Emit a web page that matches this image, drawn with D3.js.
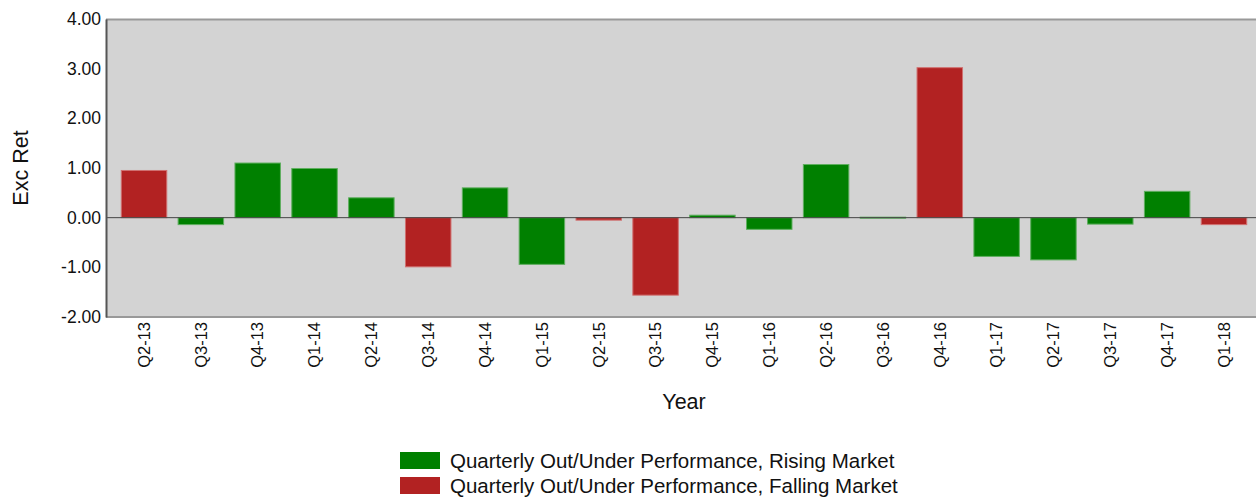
<!DOCTYPE html>
<meta charset="utf-8">
<html>
<head>
<style>
  body { margin: 0; background: #fff; font-family: "Liberation Sans", Arial, sans-serif; }
  .tick text { font-family: "Liberation Sans", Arial, sans-serif; }
</style>
</head>
<body>
<div id="chart"></div>
<script src="https://d3js.org/d3.v7.min.js"></script>
<script>
// quarters along the x axis
var quarters = ["Q2-13","Q3-13","Q4-13","Q1-14","Q2-14","Q3-14","Q4-14","Q1-15","Q2-15","Q3-15",
                "Q4-15","Q1-16","Q2-16","Q3-16","Q4-16","Q1-17","Q2-17","Q3-17","Q4-17","Q1-18"]
// excess return per quarter
var excRet = [0.95, -0.14, 1.10, 0.99, 0.40, -0.99, 0.60, -0.94, -0.05, -1.56,
              0.05, -0.235, 1.07, 0.01, 3.02, -0.78, -0.85, -0.13, 0.53, -0.14]
// market direction for each quarter
var market = ["Falling","Rising","Rising","Rising","Rising","Falling","Rising","Rising","Falling","Falling",
              "Rising","Rising","Rising","Rising","Falling","Rising","Rising","Rising","Rising","Falling"]
var yTicks = [-2, -1, 0, 1, 2, 3, 4]
var legendItems = ["Rising", "Falling"]
var legendLabels = {
  Rising: "Quarterly Out/Under Performance, Rising Market",
  Falling: "Quarterly Out/Under Performance, Falling Market"
}

var W = 1256, H = 498
var plot = {left: 106, right: 1256, top: 19, bottom: 317}

var color = d3.scaleOrdinal().domain(legendItems).range(["#008000", "#b22222"])
var edge = d3.scaleOrdinal().domain(legendItems).range(["#5fae5f", "#d07070"])

var data = quarters.map(function(q, i) { return {q: q, v: excRet[i], m: market[i]} })

var svg = d3.select("#chart").append("svg")
  .attr("width", W).attr("height", H)

var x = d3.scaleBand()
  .domain(quarters)
  .range([115.6, 1252.4])
  .paddingInner(0.2)
  .paddingOuter(0.1)

var y = d3.scaleLinear()
  .domain([-2, 4])
  .range([plot.bottom, plot.top])

// background
svg.append("rect")
  .attr("x", plot.left).attr("y", plot.top)
  .attr("width", plot.right - plot.left).attr("height", plot.bottom - plot.top)
  .style("fill", "#d3d3d3")

svg.append("line")
  .attr("x1", plot.left).attr("x2", plot.right)
  .attr("y1", plot.top + 0.5).attr("y2", plot.top + 0.5)
  .style("stroke", "#999").style("stroke-width", 2)
svg.append("line")
  .attr("x1", plot.left).attr("x2", plot.right)
  .attr("y1", plot.bottom).attr("y2", plot.bottom)
  .style("stroke", "#999").style("stroke-width", 2)

// bars
svg.selectAll(".bar")
  .data(data)
  .enter().append("rect")
    .attr("class", "bar")
    .attr("x", function(d) { return x(d.q) })
    .attr("width", x.bandwidth())
    .attr("y", function(d) { return Math.min(y(d.v), y(0)) })
    .attr("height", function(d) { return Math.max(1, Math.abs(y(d.v) - y(0))) })
    .style("fill", function(d) { return color(d.m) })
    .style("stroke", function(d) { return edge(d.m) })
    .style("stroke-width", 1)

// zero line
svg.append("line")
  .attr("x1", plot.left).attr("x2", plot.right)
  .attr("y1", y(0)).attr("y2", y(0))
  .style("stroke", "#444").style("stroke-width", 1)

// y axis
var fmt = d3.format(".2f")
var yAxis = svg.append("g")
  .attr("transform", "translate(" + plot.left + ",0)")
  .call(d3.axisLeft(y).tickValues(yTicks)
    .tickFormat(function(d) { return fmt(d).replace("\u2212", "-") })
    .tickSize(0).tickPadding(5))
yAxis.select(".domain").style("stroke", "#555").style("stroke-width", 2)
yAxis.selectAll("text").style("font-size", "17.5px").style("fill", "#111")

// x axis
var xAxis = svg.append("g")
  .attr("transform", "translate(0," + plot.bottom + ")")
  .call(d3.axisBottom(x).tickSize(0))
xAxis.select(".domain").remove()
xAxis.selectAll("text")
  .style("font-size", "16.5px").style("fill", "#111")
  .attr("transform", "rotate(-90)")
  .attr("text-anchor", "end")
  .attr("x", -5).attr("y", 0).attr("dy", "0.35em")

// axis titles
svg.append("text")
  .attr("transform", "translate(28,168) rotate(-90)")
  .attr("text-anchor", "middle")
  .style("font-size", "21.5px").style("fill", "#111")
  .text("Exc Ret")
svg.append("text")
  .attr("x", 684).attr("y", 409)
  .attr("text-anchor", "middle")
  .style("font-size", "21.5px").style("fill", "#111")
  .text("Year")

// legend
var legend = svg.selectAll(".legend")
  .data(legendItems)
  .enter().append("g")
    .attr("class", "legend")
    .attr("transform", function(d, i) { return "translate(400," + (452 + i * 25) + ")" })
legend.append("rect")
  .attr("width", 40).attr("height", 17)
  .style("fill", function(d) { return color(d) })
legend.append("text")
  .attr("x", 50).attr("y", 9)
  .attr("dy", "0.35em")
  .style("font-size", "20.5px").style("fill", "#111")
  .text(function(d) { return legendLabels[d] })
</script>
</body>
</html>
